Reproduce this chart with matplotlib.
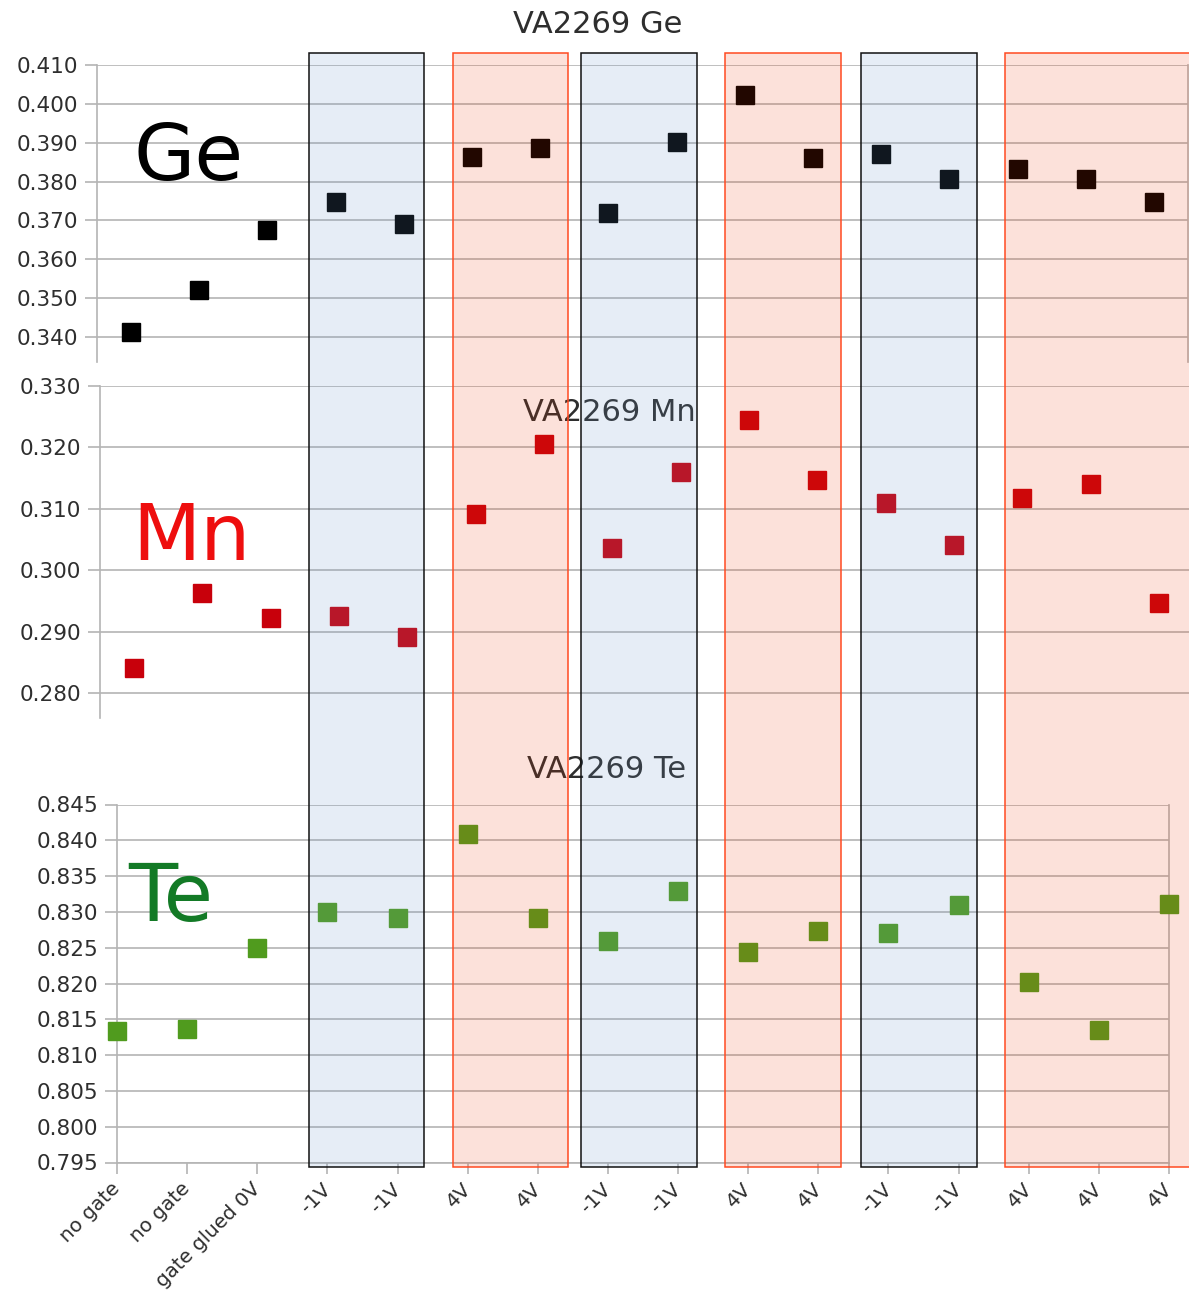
import matplotlib
matplotlib.use("Agg")
import matplotlib.pyplot as plt
from matplotlib.patches import Rectangle
from matplotlib.ticker import FormatStrFormatter
import numpy as np

# ---- data -------------------------------------------------------------
categories = ["no gate", "no gate", "gate glued 0V", "-1V", "-1V", "4V", "4V",
              "-1V", "-1V", "4V", "4V", "-1V", "-1V", "4V", "4V", "4V"]

ge_values = [0.3414, 0.3522, 0.3676, 0.3748, 0.3691, 0.3863, 0.3887, 0.3718,
             0.3903, 0.4023, 0.3860, 0.3871, 0.3806, 0.3832, 0.3806, 0.3747]
mn_values = [0.2842, 0.2964, 0.2922, 0.2926, 0.2891, 0.3091, 0.3205, 0.3037,
             0.3160, 0.3245, 0.3147, 0.3109, 0.3042, 0.3118, 0.3140, 0.2947]
te_values = [0.8134, 0.8136, 0.8249, 0.8300, 0.8291, 0.8409, 0.8292, 0.8259,
             0.8329, 0.8244, 0.8274, 0.8271, 0.8309, 0.8202, 0.8135, 0.8311]

ge_ticks = [0.340, 0.350, 0.360, 0.370, 0.380, 0.390, 0.400, 0.410]
mn_ticks = [0.280, 0.290, 0.300, 0.310, 0.320, 0.330]
te_ticks = [0.795, 0.800, 0.805, 0.810, 0.815, 0.820, 0.825, 0.830, 0.835,
            0.840, 0.845]

# ---- layout (pixels) --------------------------------------------------
W, H = 1189, 1295
GRID = "#b4b4b4"
TXT = "#2e2e2e"

fig = plt.figure(figsize=(W / 100, H / 100), dpi=100)
fig.patch.set_facecolor("white")


def px_axes(left, top, right, bottom):
    return fig.add_axes([left / W, 1 - bottom / H, (right - left) / W,
                         (bottom - top) / H])


def style(ax, ticks, ylim, spines):
    ax.set_ylim(*ylim)
    ax.set_yticks(ticks)
    ax.yaxis.set_major_formatter(FormatStrFormatter("%.3f"))
    ax.grid(axis="y", color=GRID, lw=1.2)
    ax.set_axisbelow(True)
    ax.tick_params(axis="y", length=8.5, width=1.2, color=GRID,
                   labelsize=15.5, labelcolor=TXT, pad=5)
    for name, sp in ax.spines.items():
        sp.set_visible(name in spines)
        sp.set_color(GRID)
        sp.set_linewidth(1.2)


x = np.arange(len(categories))

# Ge panel
ax_ge = px_axes(97, 65, 1188, 362)
style(ax_ge, ge_ticks, (0.33357, 0.410), ("left", "right"))
ax_ge.set_xlim(-0.5, len(categories) - 0.5)
ax_ge.set_xticks([])
ax_ge.plot(x, ge_values, "s", ms=13.5, color="#000000", zorder=3, clip_on=False)

# Mn panel
ax_mn = px_axes(100, 386, 1193, 718)
style(ax_mn, mn_ticks, (0.2760, 0.330), ("left",))
ax_mn.set_xlim(-0.5, len(categories) - 0.5)
ax_mn.set_xticks([])
ax_mn.plot(x, mn_values, "s", ms=13.5, color="#c8000b", zorder=3, clip_on=False)

# Te panel
ax_te = px_axes(117, 804.5, 1169, 1162.5)
style(ax_te, te_ticks, (0.795, 0.845), ("left", "right", "bottom"))
ax_te.set_xlim(0, len(categories) - 1)
ax_te.set_xticks(x)
ax_te.set_xticklabels(categories, rotation=45, ha="right", va="center",
                      rotation_mode="anchor")
ax_te.tick_params(axis="x", length=8, width=1.2, color=GRID, labelsize=14.3,
                  labelcolor=TXT, pad=9)
ax_te.plot(x, te_values, "s", ms=13, color="#509b1e", zorder=3, clip_on=False)

# panel titles
fig.text(598 / W, 1 - 33 / H, "VA2269 Ge", ha="center", va="baseline",
         fontsize=22, color=TXT)
fig.text(609 / W, 1 - 421 / H, "VA2269 Mn", ha="center", va="baseline",
         fontsize=22, color=TXT)
fig.text(607 / W, 1 - 778 / H, "VA2269 Te", ha="center", va="baseline",
         fontsize=22, color=TXT)

# element labels
fig.text(133 / W, 1 - 180 / H, "Ge", ha="left", va="baseline",
         fontsize=57, color="#000000")
fig.text(132 / W, 1 - 560 / H, "Mn", ha="left", va="baseline",
         fontsize=57, color="#ee0e0e")
fig.text(128 / W, 1 - 921 / H, "Te", ha="left", va="baseline",
         fontsize=58, color="#137a26")

# translucent gate-bias bands laid over all three panels
band_top, band_bottom = 53, 1167
bands = [(309, 424, "neg"), (453, 568, "pos"), (581, 697, "neg"),
         (725, 841, "pos"), (861, 977, "neg"), (1005, 1205, "pos")]
band_style = {
    "neg": dict(facecolor=(105 / 255, 149 / 255, 199 / 255, 0.16),
                edgecolor="#111111"),
    "pos": dict(facecolor=(241 / 255, 55 / 255, 0 / 255, 0.145),
                edgecolor="#ff4a22"),
}
for x0, x1, kind in bands:
    fig.add_artist(Rectangle((x0 / W, 1 - band_bottom / H), (x1 - x0) / W,
                             (band_bottom - band_top) / H,
                             transform=fig.transFigure, lw=1.1, zorder=10,
                             **band_style[kind]))

fig.savefig("out.png", dpi=100)
